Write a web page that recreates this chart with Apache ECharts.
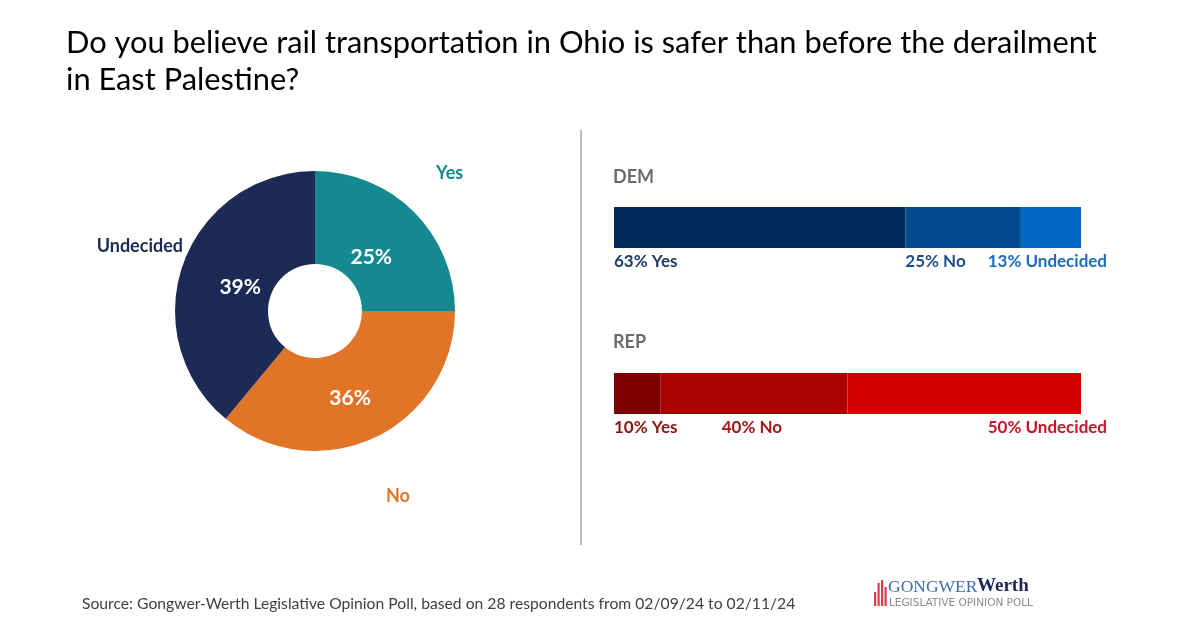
<!DOCTYPE html>
<html><head><meta charset="utf-8">
<script src="https://cdn.jsdelivr.net/npm/echarts@6/dist/echarts.min.js"></script>
<style>html,body{margin:0;padding:0;background:#fff}#c{width:1199px;height:628px}</style>
</head><body><div id="c"></div>
<script>
const titleText = 'Do you believe rail transportation in Ohio is safer than before the derailment\nin East Palestine?';
const pieCategories = ['Yes', 'No', 'Undecided'];
const pieValues = [25, 36, 39];
const partyNames = ['DEM', 'REP'];
const answerNames = ['Yes', 'No', 'Undecided'];
const demValues = [63, 25, 13];
const repValues = [10, 40, 50];
const sourceText = 'Source: Gongwer-Werth Legislative Opinion Poll, based on 28 respondents from 02/09/24 to 02/11/24';

const pieColors = ['#148a90', '#e07528', '#1c2a55'];
const demColors = ['#002b5c', '#004a8e', '#0069c6'];
const repColors = ['#7c0000', '#a90000', '#d40000'];
const demLabelColors = ['#1d3a68', '#1f4d87', '#1b6cc0'];
const repLabelColors = ['#8e1414', '#a51616', '#c8142a'];

const chart = echarts.init(document.getElementById('c'), null, {renderer: 'canvas'});
const sum = a => a.reduce((s, v) => s + v, 0);
const FONT = 'Lato';

function barSeries(values, colors, labelColors, axisIdx, labelPos) {
  return values.map((v, i) => ({
    type: 'bar', stack: 's' + axisIdx, xAxisIndex: axisIdx, yAxisIndex: axisIdx,
    name: answerNames[i], barWidth: 41, data: [v],
    itemStyle: {color: colors[i]}, silent: true,
    label: Object.assign({
      show: true, formatter: '{c}% ' + answerNames[i], color: labelColors[i],
      fontFamily: FONT, fontWeight: 'bold', fontSize: 17, verticalAlign: 'middle'
    }, labelPos[i])
  }));
}

const demLabelPos = [
  {position: [0, 55], align: 'left'},
  {position: [0, 55], align: 'left'},
  {position: ['100%', 55], align: 'right', offset: [26, 0]}
];
const repLabelPos = [
  {position: [0, 55], align: 'left'},
  {position: [0, 55], align: 'left', offset: [61, 0]},
  {position: ['100%', 55], align: 'right', offset: [26, 0]}
];
const pieLabelOffsets = [[-12, 14], [-6, 0], [16, 9]];

const logoBars = [[874, 592, 2.2, 14], [877.5, 583, 2.2, 23], [881, 580, 2.2, 26], [884.5, 587, 2.2, 19]];

const option = {
  backgroundColor: '#fff',
  animation: false,
  title: {
    text: titleText, left: 61, top: 20,
    textStyle: {fontFamily: 'Lato', fontSize: 30.8, fontWeight: 'normal', color: '#000', lineHeight: 37}
  },
  grid: [
    {left: 614, top: 207, width: 467, height: 41},
    {left: 614, top: 373, width: 467, height: 41}
  ],
  xAxis: [
    {type: 'value', gridIndex: 0, min: 0, max: sum(demValues), show: false},
    {type: 'value', gridIndex: 1, min: 0, max: sum(repValues), show: false}
  ],
  yAxis: [
    {type: 'category', gridIndex: 0, data: [partyNames[0]], show: false},
    {type: 'category', gridIndex: 1, data: [partyNames[1]], show: false}
  ],
  series: [
    {
      type: 'pie', center: [315, 311], radius: [47, 140], startAngle: 90, clockwise: true,
      silent: true, labelLine: {show: false},
      data: pieCategories.map((c, i) => ({name: c, value: pieValues[i], itemStyle: {color: pieColors[i]},
        label: {offset: pieLabelOffsets[i]}})),
      label: {show: true, position: 'inside', formatter: '{c}%', color: '#fff', fontFamily: FONT, fontWeight: 'bold', fontSize: 21}
    },
    ...barSeries(demValues, demColors, demLabelColors, 0, demLabelPos),
    ...barSeries(repValues, repColors, repLabelColors, 1, repLabelPos)
  ],
  graphic: [
    {type: 'text', left: 436, top: 164, style: {text: pieCategories[0], fill: pieColors[0], font: 'bold 18px Lato'}},
    {type: 'text', left: 386, top: 487, style: {text: pieCategories[1], fill: pieColors[1], font: 'bold 18px Lato'}},
    {type: 'text', right: 1199 - 183, top: 237, style: {text: pieCategories[2], fill: pieColors[2], font: 'bold 18px Lato'}},
    {type: 'line', shape: {x1: 581, y1: 130, x2: 581, y2: 545}, style: {stroke: '#bdbdbd', lineWidth: 2}},
    {type: 'text', left: 613, top: 168, style: {text: partyNames[0], fill: '#6b6b6b', font: 'bold 18px Lato'}},
    {type: 'text', left: 613, top: 333, style: {text: partyNames[1], fill: '#6b6b6b', font: 'bold 18px Lato'}},
    {type: 'text', left: 82, top: 596, style: {text: sourceText, fill: '#404040', font: '15.7px Lato'}},
    ...logoBars.map(b => ({type: 'rect', shape: {x: b[0], y: b[1], width: b[2], height: b[3]}, style: {fill: '#e0394d'}})),
    {type: 'text', left: 888, top: 578, style: {text: 'GONGWER', fill: '#3e6db0', font: '17.5px "Liberation Serif"'}},
    {type: 'text', left: 977, top: 577, style: {text: 'Werth', fill: '#1c2a55', font: 'bold 19px "Liberation Serif"'}},
    {type: 'text', left: 889, top: 598, style: {text: 'LEGISLATIVE OPINION POLL', fill: '#8a8a8a', font: '10.5px "DejaVu Sans"'}}
  ]
};
chart.setOption(option);
</script>
</body></html>
